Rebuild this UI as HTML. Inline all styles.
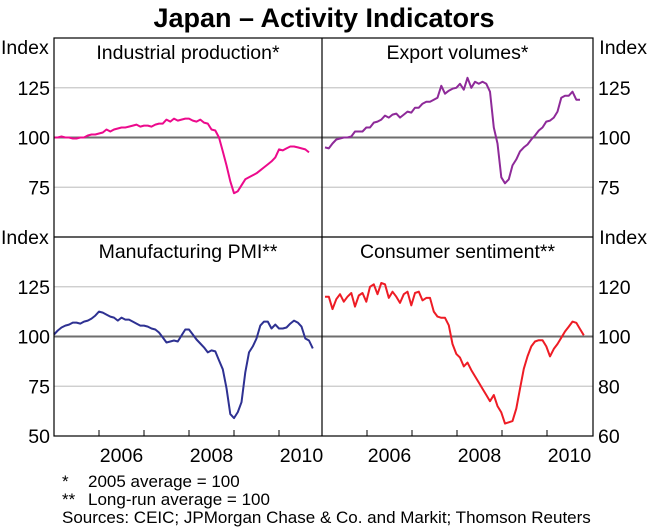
<!DOCTYPE html>
<html><head><meta charset="utf-8"><style>
body{margin:0;background:#fff;}
svg{display:block;font-family:"Liberation Sans",Arial,sans-serif;}
</style></head><body>
<svg id="chart" width="649" height="529" viewBox="0 0 649 529">
<text x="324" y="27" text-anchor="middle" font-size="27" font-weight="bold">Japan – Activity Indicators</text>
<g id="grid"></g>
<g id="series"></g>
<g id="frame"></g>
<g id="labels"></g>
<g font-size="17">
<text x="62" y="487">*</text><text x="88" y="487">2005 average = 100</text>
<text x="62" y="505">**</text><text x="88" y="505">Long-run average = 100</text>
<text x="62" y="523">Sources: CEIC; JPMorgan Chase &amp; Co. and Markit; Thomson Reuters</text>
</g>
</svg>
<script>
const ipValues=[100,100,100.5,100,100,99.5,99.5,100,100,101,101.5,101.5,102,102.5,104,103,104,104.5,105,105,105.5,106,106.5,105.5,106,106,105.5,106.5,107,107,109,108,109.5,108.5,109,109.5,109.5,108.5,108,109,107.5,107,104,103.5,100,93,86,78,72,73,76,79,80,81,82,83.5,85,86.5,88,90,94,93.5,94.5,95.5,95.5,95,94.5,94,92.5];
const exportValues=[95,94.5,97,99,99.5,100,100,100.5,103,103,103,105,105,107.5,108,109,111,110,111.5,112,110,111.5,113,112.5,115,115,117,118,118,119,120,126,122,123.5,124.5,125,127,124,130,125,128,127,128,127,123,105,97,80,77,79,86,89,93,95,96.5,99,101,103.5,105,108,108.5,110,113,120,121,121,123,119,119];
const pmiValues=[101,103,104.5,105.5,106,107,107,106.5,107.5,108,109,110.5,112.5,112,111,110,109.5,108,109.5,108.5,108.5,107.5,106.5,105.5,105.5,105,104,103.5,102,99.5,97,97.5,98,97.5,100.5,103.5,103.5,101,98.5,96.5,94.5,92,93,92.5,88,83.5,74,61,59,62,67,82,92,95,99,105.5,107.5,107.5,104,106,104,104,104.5,106.5,108,107,105,99,98,94];
const sentimentValues=[116,116,111,115,117,114,116,117.5,112,116.5,117.5,114,120,121,117,121.5,121,115.5,118,116,113.5,117,118,112.5,117.5,118,114.5,115.5,115.5,110,108,107.5,107.5,104.5,97,93,91.5,88,89.5,86.5,84,81.5,79,76.5,74,76.5,72,69.5,65,65.5,66,71,79,87,92,96,98,98.5,98.5,96,92,95,97,99.5,102,104,106,105.5,103,100.5];
const startOffsets=[0,0.8,0,0.8];
const leftTicks=[75,100,125];
const leftTicksBottom=[50,75,100,125];
const rightTicksTop=[75,100,125];
const rightTicksBottom=[60,80,100,120];
const yearLabels=[2006,2008,2010];
const yearTicks=[2006,2007,2008,2009,2010];

const NS="http://www.w3.org/2000/svg";
function mk(tag,attrs,parent){const e=document.createElementNS(NS,tag);for(const k in attrs)e.setAttribute(k,attrs[k]);parent.appendChild(e);return e;}
const L=54,M=322,R=593,T=38,H=237,B=436;
const monthW=3.75;
const FS=19.5;
const panels=[
 {x0:L,x1:M,y0:T,y1:H,min:50,max:150,data:ipValues,color:"#ec0a8c",title:"Industrial production*",off:startOffsets[0],name:"industrial-production"},
 {x0:M,x1:R,y0:T,y1:H,min:50,max:150,data:exportValues,color:"#8e2a99",title:"Export volumes*",off:startOffsets[1],name:"export-volumes"},
 {x0:L,x1:M,y0:H,y1:B,min:50,max:150,data:pmiValues,color:"#2e3192",title:"Manufacturing PMI**",off:startOffsets[2],name:"manufacturing-pmi"},
 {x0:M,x1:R,y0:H,y1:B,min:60,max:140,data:sentimentValues,color:"#ee1c25",title:"Consumer sentiment**",off:startOffsets[3],name:"consumer-sentiment"}
];
function yScale(p,v){return p.y1-(v-p.min)/(p.max-p.min)*(p.y1-p.y0);}
function xMonth(p,i){return p.x0+(i+p.off)*monthW;}
function xYear(p,y){return p.x0+(y-2005)*12*monthW;}
const grid=document.getElementById('grid'),ser=document.getElementById('series'),frame=document.getElementById('frame'),lab=document.getElementById('labels');
panels.forEach((p,pi)=>{
 const ticks=pi===0?leftTicks:pi===1?rightTicksTop:pi===2?leftTicksBottom:rightTicksBottom;
 ticks.forEach(t=>{
  const y=yScale(p,t);
  const isBase=t===100;
  if(t>p.min){
   const g=mk('line',{x1:p.x0,x2:p.x1,y1:y,y2:y,stroke:isBase?'#6e6e6e':'#c8c8c8','stroke-width':isBase?2:1.2},grid);
   
   
  }
  if(pi===0||pi===2){
   const tx=mk('text',{x:50,y:y+7,'text-anchor':'end','font-size':FS},lab);tx.textContent=t;
   
   
  } else {
   const tx=mk('text',{x:598,y:y+7,'font-size':FS},lab);tx.textContent=t;
   
   
  }
 });
 const pts=p.data.map((v,i)=>xMonth(p,i).toFixed(1)+','+yScale(p,v).toFixed(1)).join(' ');
 const pl=mk('polyline',{points:pts,fill:'none',stroke:p.color,'stroke-width':2,'stroke-linejoin':'round'},ser);
 
 
 const tt=mk('text',{x:(p.x0+p.x1)/2,y:p.y0+21,'text-anchor':'middle','font-size':FS},lab);tt.textContent=p.title;
 
 
 if(pi>=2){
  yearTicks.forEach(yr=>{
   const x=xYear(p,yr);
   const tk=mk('line',{x1:x,x2:x,y1:B,y2:B-6,stroke:'#000','stroke-width':1},frame);
   
   
  });
  yearLabels.forEach(yr=>{
   const x=xYear(p,yr+0.5);
   const tx=mk('text',{x:x,y:462,'text-anchor':'middle','font-size':FS},lab);tx.textContent=yr;
   
   
  });
 }
});
[[1,54,'start'],[1,244,'start'],[647,54,'end'],[647,244,'end']].forEach(a=>{
 const tx=mk('text',{x:a[0],y:a[1],'text-anchor':a[2],'font-size':FS},lab);tx.textContent='Index';
 
 
});
const fr=mk('rect',{x:L,y:T,width:R-L,height:B-T,fill:'none',stroke:'#000','stroke-width':1.2},frame);


const v=mk('line',{x1:M,x2:M,y1:T,y2:B,stroke:'#000','stroke-width':1.2},frame);


const h=mk('line',{x1:L,x2:R,y1:H,y2:H,stroke:'#000','stroke-width':1.2},frame);


</script>
</body></html>
